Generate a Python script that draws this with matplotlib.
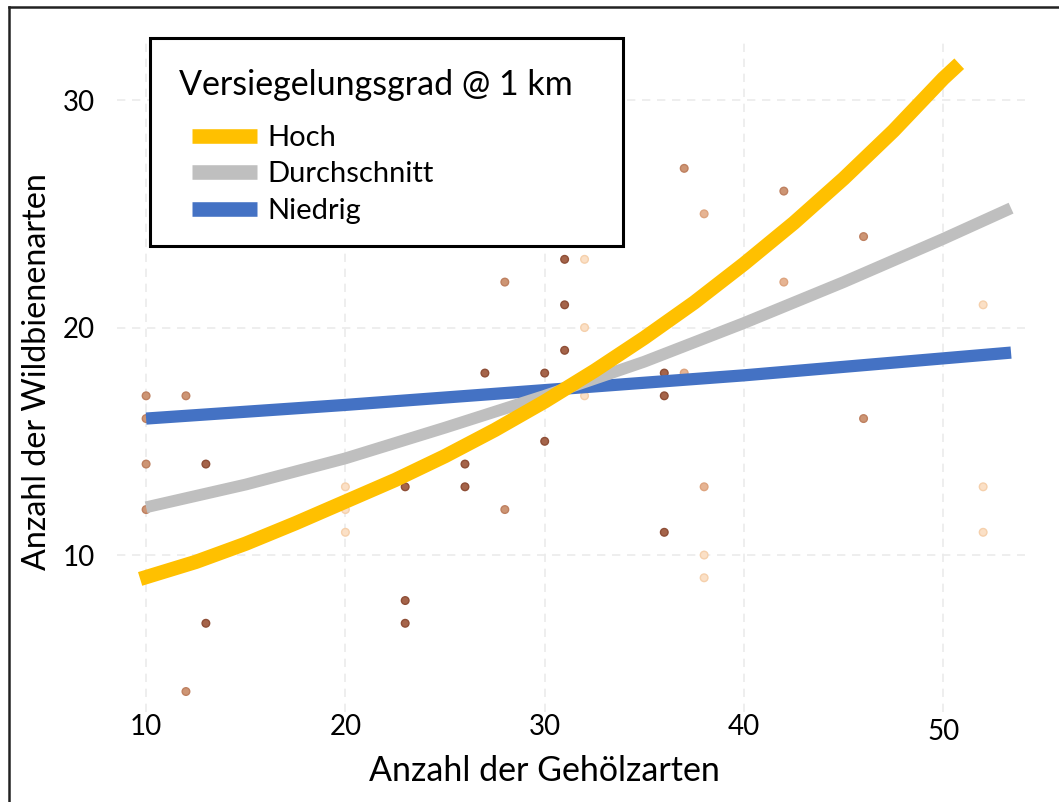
import matplotlib
matplotlib.use("Agg")
import matplotlib.pyplot as plt
from matplotlib.lines import Line2D
from matplotlib.legend_handler import HandlerLine2D

plt.rcParams['font.family'] = ['Lato', 'DejaVu Sans']

# ---------------- data ----------------
# observed points: number of woody species vs. number of wild bee species
point_x = [10, 12, 10, 13, 10, 10, 13, 12,
           20, 20, 20, 23, 23, 23, 26, 26, 27, 28, 28,
           30, 30, 31, 31, 31, 32, 32, 32,
           36, 36, 36, 37, 37, 38, 38, 38, 38,
           42, 42, 46, 46, 52, 52, 52]
point_y = [17, 17, 14, 14, 16, 12, 7, 4,
           13, 12, 11, 13, 8, 7, 14, 13, 18, 22, 12,
           18, 15, 23, 21, 19, 23, 20, 17,
           18, 17, 11, 27, 18, 25, 13, 10, 9,
           26, 22, 24, 16, 21, 13, 11]
# shade class of each point: 0 = dark, 1 = medium, 2 = light-medium, 3 = light
point_shade = [1, 1, 1, 0, 1, 1, 0, 1,
               3, 3, 3, 0, 0, 0, 0, 0, 0, 1, 1,
               0, 0, 0, 0, 0, 3, 3, 3,
               0, 0, 0, 1, 2, 2, 2, 3, 3,
               1, 2, 1, 1, 3, 3, 3]

# model predictions per sealing degree
hoch_x = [9.7, 12.5, 15, 17.5, 20, 22.5, 25, 27.5, 30, 32.5, 35, 37.5, 40,
          42.5, 45, 47.5, 50, 50.8]
hoch_y = [8.95, 9.7, 10.5, 11.4, 12.35, 13.3, 14.35, 15.5, 16.75, 18.1, 19.55,
          21.1, 22.8, 24.6, 26.55, 28.65, 30.95, 31.6]
durch_x = [10, 15, 20, 25, 30, 35, 40, 45, 50, 53.4]
durch_y = [12.1, 13.1, 14.25, 15.6, 17.0, 18.5, 20.2, 22.0, 23.9, 25.25]
nied_x = [10, 20, 30, 40, 53.4]
nied_y = [16.0, 16.6, 17.25, 17.9, 18.9]

series_labels = ['Hoch', 'Durchschnitt', 'Niedrig']
legend_title = 'Versiegelungsgrad @ 1 km'
x_ticks = [10, 20, 30, 40, 50]
y_ticks = [10, 20, 30]
x_label = 'Anzahl der Gehölzarten'
y_label = 'Anzahl der Wildbienenarten'

# ---------------- styling ----------------
shade_face = ['#A5644A', '#CD9574', '#E6B493', '#FBE0C6']
shade_edge = ['#8E4E36', '#BE8060', '#DDA47F', '#F5D0AC']
col_hoch = '#FFC000'
col_durch = '#BFBFBF'
col_nied = '#4472C4'

W, H = 1059, 802
fig = plt.figure(figsize=(W / 100, H / 100), dpi=100)
ax = fig.add_axes([117 / W, 1 - 712 / H, (1025 - 117) / W, (712 - 38) / H])

ax.set_xlim(8.54, 54.1)
ax.set_ylim(3.1, 32.73)

for side in ax.spines.values():
    side.set_visible(False)

ax.set_xticks(x_ticks)
ax.set_yticks(y_ticks)
ax.grid(True, color='#EBEBEB', linestyle=(0, (5, 4)), linewidth=1.2)
ax.set_axisbelow(True)
ax.tick_params(axis='both', length=0, labelsize=20, colors='black')
ax.tick_params(axis='x', pad=1.5)
ax.tick_params(axis='y', pad=16)
ax.xaxis.get_major_ticks()[-1].set_pad(5)

fc = [shade_face[s] for s in point_shade]
ec = [shade_edge[s] for s in point_shade]
ax.scatter(point_x, point_y, s=30, c=fc, edgecolors=ec, linewidths=1.0, zorder=2)

l1, = ax.plot(hoch_x, hoch_y, color=col_hoch, lw=10.3, solid_capstyle='butt',
              solid_joinstyle='round', zorder=5)
l2, = ax.plot(durch_x, durch_y, color=col_durch, lw=8.5, solid_capstyle='butt',
              solid_joinstyle='round', zorder=4)
l3, = ax.plot(nied_x, nied_y, color=col_nied, lw=8.8, solid_capstyle='butt',
              solid_joinstyle='round', zorder=3)

ax.set_xlabel(x_label, fontsize=24.5)
ax.set_ylabel(y_label, fontsize=23.2)
ax.yaxis.label.set_va('center')
ax.xaxis.set_label_coords((544 - 117) / 908, (712 - 755) / 674)
ax.yaxis.set_label_coords((37 - 117) / 908, (712 - 372) / 674)

fs_entry = 21
px_per_pt = 100 / 72
em = fs_entry * px_per_pt
leg = ax.legend([l1, l2, l3], series_labels, title=legend_title,
                loc='upper left',
                bbox_to_anchor=((150 - 117) / 908, 1.0, (623 - 150) / 908, 0),
                mode='expand', borderaxespad=0, alignment='left',
                fontsize=fs_entry, title_fontsize=24.5, frameon=True,
                fancybox=False, framealpha=1, edgecolor='black',
                handlelength=(65 + 20) / em, handletextpad=10 / em,
                labelspacing=10.5 / em, borderpad=22 / em,
                handler_map={Line2D: HandlerLine2D(xpad=20 / em)})
leg.get_frame().set_linewidth(2.2)
for h in leg.get_lines():
    h.set_linewidth(10.5)
leg.set_zorder(10)
leg.get_title().set_x(7)
leg.get_title().set_y(-9)
leg._legend_box.sep = 33 / px_per_pt

# outer frame of the figure (only left and top edges visible)
fig.add_artist(Line2D([8.5 / W, 8.5 / W], [0, 1 - 7 / H], color='#222222', lw=1.8))
fig.add_artist(Line2D([8.5 / W, 1], [1 - 7 / H, 1 - 7 / H], color='#222222', lw=1.8))

fig.savefig('out.png', dpi=100)
